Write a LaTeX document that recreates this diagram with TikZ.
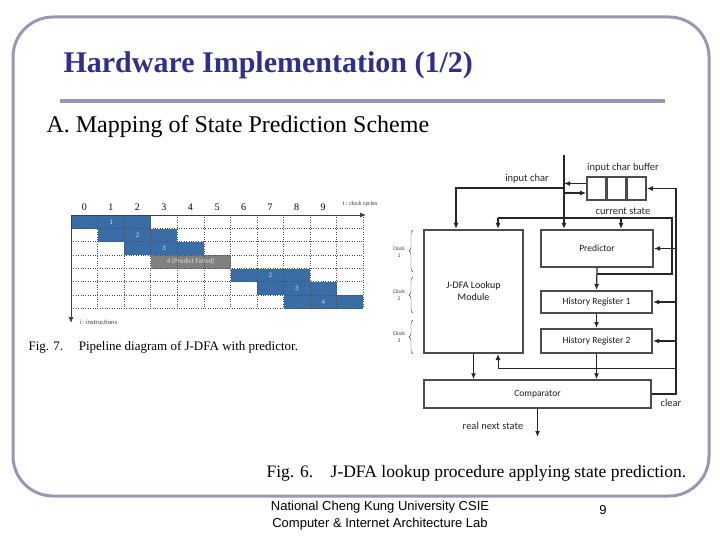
\documentclass[tikz,border=0pt]{standalone}
\usepackage{fontspec}
\setmainfont{Liberation Serif}
\newfontfamily\diafont{Carlito}
\newfontfamily\footfont{Liberation Sans}
\usetikzlibrary{positioning,arrows.meta,decorations.pathreplacing}
\definecolor{framegray}{RGB}{152,152,182}
\definecolor{titleblue}{RGB}{48,48,138}
\definecolor{barblue}{RGB}{58,108,166}
\definecolor{bargray}{RGB}{128,128,128}

\begin{document}
\begin{tikzpicture}[
            x=1pt, y=-1pt,
            s/.style={draw=black!70,line width=2pt,rectangle,inner sep=0pt,text=black!90,font=\diafont\fontsize{9.5}{10}\selectfont},
            cell/.style={draw=black!70,line width=1.5pt,rectangle,minimum width=18.7pt,minimum height=23pt,inner sep=0pt},
            bar/.style={draw=none,inner sep=0pt,anchor=north west,minimum width=79.65pt,minimum height=13.33pt,font=\diafont\fontsize{7}{7}\selectfont},
            lbl/.style={font=\diafont\fontsize{10.5}{12}\selectfont,text=black!85},
            clk/.style={align=center,text=black!75,font=\diafont\fontsize{5.5}{6.5}\selectfont},
            brc/.style={decorate,decoration={brace,amplitude=4pt},black!75,thin},
            w/.style={->,line width=1.2pt,black!85},
            ln/.style={line width=1.2pt,black!85},
            >={Latex[length=6pt,width=5pt]}
        ]

        \useasboundingbox (0,0) rectangle (720,540);
        \draw[framegray,line width=3pt,rounded corners=40pt] (13,17) rectangle (709,496);

        \node[anchor=west,text=titleblue,font=\bfseries\fontsize{30}{34}\selectfont] (title) at (60,65) {Hardware Implementation (1/2)};
        \draw[framegray,line width=4pt] (60,101) -- (665,101);
        \node[anchor=west,font=\fontsize{24}{28}\selectfont] (sub) at (43,127) {A. Mapping of State Prediction Scheme};

        % pipeline diagram
        \coordinate (o) at (71,215);
        \foreach \r/\c/\col/\t in {0/0/barblue/1,1/1/barblue/2,2/2/barblue/3,3/3/bargray/{4 (Predict Failed)},4/6/barblue/2,5/7/barblue/3,6/8/barblue/4}
            \node[bar,fill=\col,text=white!85!black] (b\r) at ({71+\c*26.55},{215+\r*13.33}) {\t};
        \foreach \c in {1,...,11}
            \draw[dotted,black!70] ({71+\c*26.55},215) -- ({71+\c*26.55},308.3);
        \foreach \r in {1,...,7}
            \draw[dotted,black!70] (71,{215+\r*13.33}) -- (363,{215+\r*13.33});
        \foreach \n in {0,...,9}
            \node[font=\fontsize{10}{10}\selectfont] (n\n) at ({71+(\n+0.5)*26.55},207) {\n};
        \draw[->,black!75,thick] (o) -- (366,215);
        \draw[->,black!75,thick] (o) -- (71,323);
        \node[font=\diafont\fontsize{6}{6}\selectfont,text=black!75] (tlbl) at (360,204) {t : clock cycles};
        \node[anchor=west,font=\diafont\fontsize{6.5}{6.5}\selectfont,text=black!75] (ilbl) at (76,322) {i : instructions};
        \node[anchor=west,font=\fontsize{13}{15}\selectfont] (fig7) at (25,347) {Fig. 7.\hspace{1.2em}Pipeline diagram of J-DFA with predictor.};

        % lookup procedure
        \node[s,minimum width=99pt,minimum height=123pt,align=center,font=\diafont\fontsize{10}{12}\selectfont] (jdfa) at (473.5,291.5) {J-DFA Lookup\\Module};
        \node[s,minimum width=112pt,minimum height=37pt] (pred) at (597,248.5) {Predictor};
        \node[s,minimum width=111pt,minimum height=22pt] (hr1) at (596.5,302) {History Register 1};
        \node[s,minimum width=111pt,minimum height=24pt] (hr2) at (596.5,341) {History Register 2};
        \node[s,line width=1.5pt,minimum width=227pt,minimum height=28pt] (cmp) at (537.5,394) {Comparator};
        \node[cell] (buf1) at (596.3,188.5) {};
        \node[cell,right=0pt of buf1] (buf2) {};
        \node[cell,right=0pt of buf2] (buf3) {};

        \coordinate (inchar) at (564,155);
        \coordinate (ic) at (564,188);
        \coordinate (cs) at (498,218);
        \coordinate (fb) at (672,274);
        \coordinate (clr) at (676,188.5);
        \coordinate (clrlow) at (676,368);
        \coordinate (rns) at (537.5,437);

        \draw[w] (inchar) -- (inchar |- pred.north);
        \draw[w] ([yshift=5pt]buf1.west) -- ([yshift=5pt]buf1.west -| inchar);
        \draw[w] ([yshift=-4.5pt]buf1.west -| inchar) -- ([yshift=-4.5pt]buf1.west);
        \draw[w] (ic) -| ([xshift=-17.5pt]jdfa.north);
        \draw[ln] (pred.south |- fb) -- (fb) |- (cs);
        \draw[w] (cs) -- (cs |- jdfa.north);
        \draw[w] ([xshift=24pt]pred.north |- cs) -- ([xshift=24pt]pred.north);
        \draw[w] (pred.south) -- (hr1.north);
        \draw[w] (hr1) -- (hr2);
        \draw[w] (hr2.south) -- (hr2.south |- cmp.north);
        \draw[w] (jdfa.south) -- (jdfa.south |- cmp.north);
        \draw[w] (cmp.south) -- (rns);
        \draw[w] (cmp.east) -| (clr) -- (buf3.east);
        \draw[w] (pred.east -| clr) -- (pred.east);
        \draw[w] (hr1.east -| clr) -- (hr1.east);
        \draw[w] (hr2.east -| clr) -- (hr2.east);
        \draw[w,line width=0.9pt] (clrlow) -| ([xshift=24.5pt]jdfa.south);

        \node[lbl] (lic) at (527,179) {input char};
        \node[lbl] (lbuf) at (623,168) {input char buffer};
        \node[lbl] (lcs) at (623,211) {current state};
        \node[lbl] (lclr) at (671,403) {clear};
        \node[lbl] (lrns) at (493,426) {real next state};

        \node[clk] (clk1) at (399,252) {Clock\\1};
        \node[clk] (clk2) at (399,295) {Clock\\2};
        \node[clk] (clk3) at (399,337) {Clock\\3};
        \draw[brc] (413,272) -- (413,230);
        \draw[brc] (413,313) -- (413,277);
        \draw[brc] (413,354) -- (413,320);

        \node[anchor=west,font=\fontsize{17.5}{20}\selectfont] (fig6) at (263,473) {Fig. 6.\hspace{1em}J-DFA lookup procedure applying state prediction.};

        \node[align=center,font=\footfont\fontsize{13}{17}\selectfont] (foot) at (380,515.5) {National Cheng Kung University CSIE\\Computer \& Internet Architecture Lab};
        \node[font=\footfont\fontsize{13}{15}\selectfont] (page) at (603,510) {9};

    \end{tikzpicture}
\end{document}
